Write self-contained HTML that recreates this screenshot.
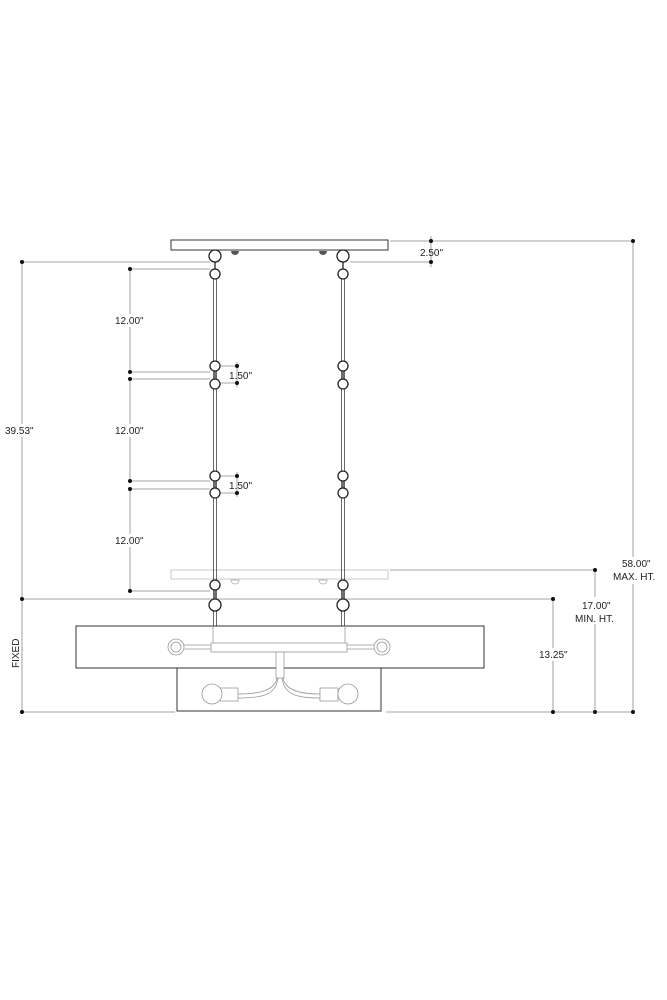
<!DOCTYPE html>
<html><head><meta charset="utf-8"><style>
html,body{margin:0;padding:0;background:#fff;}
svg{display:block;}
text{font-family:"Liberation Sans",Arial,sans-serif;font-size:10px;fill:#222;}
</style></head><body>
<svg width="667" height="1000" viewBox="0 0 667 1000" xmlns="http://www.w3.org/2000/svg">
<rect width="667" height="1000" fill="#fff"/>
<g stroke="#888" stroke-width="0.8" fill="none">
  <!-- left dims -->
  <line x1="22" y1="262" x2="22" y2="712"/>
  <line x1="22" y1="262" x2="210" y2="262"/>
  <line x1="22" y1="599" x2="553" y2="599"/>
  <line x1="130" y1="269" x2="130" y2="372"/>
  <line x1="130" y1="379" x2="130" y2="481"/>
  <line x1="130" y1="489" x2="130" y2="591"/>
  <line x1="130" y1="269" x2="210" y2="269"/>
  <line x1="130" y1="372" x2="210" y2="372"/>
  <line x1="130" y1="379" x2="210" y2="379"/>
  <line x1="130" y1="481" x2="210" y2="481"/>
  <line x1="130" y1="489" x2="210" y2="489"/>
  <line x1="130" y1="591" x2="210" y2="591"/>
  <line x1="220" y1="366" x2="237" y2="366"/>
  <line x1="220" y1="383" x2="237" y2="383"/>
  <line x1="237" y1="362" x2="237" y2="387"/>
  <line x1="220" y1="476" x2="237" y2="476"/>
  <line x1="220" y1="493" x2="237" y2="493"/>
  <line x1="237" y1="472" x2="237" y2="497"/>
  <!-- right dims -->
  <line x1="390" y1="241" x2="634" y2="241"/>
  <line x1="350" y1="262" x2="431" y2="262"/>
  <line x1="431" y1="236" x2="431" y2="267"/>
  <line x1="633" y1="241" x2="633" y2="712"/>
  <line x1="390" y1="570" x2="595" y2="570"/>
  <line x1="595" y1="570" x2="595" y2="712"/>
  <line x1="553" y1="599" x2="553" y2="712"/>
  <line x1="22" y1="712" x2="175" y2="712"/>
  <line x1="386" y1="712" x2="634" y2="712"/>
</g>
<g fill="#111">
  <circle cx="22" cy="262" r="2"/><circle cx="22" cy="599" r="2"/><circle cx="22" cy="712" r="2"/>
  <circle cx="130" cy="269" r="2"/><circle cx="130" cy="372" r="2"/><circle cx="130" cy="379" r="2"/>
  <circle cx="130" cy="481" r="2"/><circle cx="130" cy="489" r="2"/><circle cx="130" cy="591" r="2"/>
  <circle cx="237" cy="366" r="2"/><circle cx="237" cy="383" r="2"/>
  <circle cx="237" cy="476" r="2"/><circle cx="237" cy="493" r="2"/>
  <circle cx="431" cy="241" r="2"/><circle cx="431" cy="262" r="2"/>
  <circle cx="633" cy="241" r="2"/><circle cx="633" cy="712" r="2"/>
  <circle cx="595" cy="570" r="2"/><circle cx="595" cy="712" r="2"/>
  <circle cx="553" cy="599" r="2"/><circle cx="553" cy="712" r="2"/>
</g>
<!-- labels with white bg -->
<g>
  <rect x="4" y="424" width="36" height="13" fill="#fff"/><text x="5" y="434">39.53"</text>
  <rect x="114" y="314" width="34" height="13" fill="#fff"/><text x="115" y="324">12.00"</text>
  <rect x="114" y="424" width="34" height="13" fill="#fff"/><text x="115" y="434">12.00"</text>
  <rect x="114" y="534" width="34" height="13" fill="#fff"/><text x="115" y="544">12.00"</text>
  <text x="229" y="379">1.50"</text>
  <text x="229" y="489">1.50"</text>
  <text x="420" y="256">2.50"</text>
  <rect x="614" y="557" width="40" height="27" fill="#fff"/>
  <text x="622" y="567">58.00"</text><text x="613" y="580">MAX. HT.</text>
  <rect x="574" y="597" width="42" height="27" fill="#fff"/>
  <text x="582" y="609">17.00"</text><text x="575" y="622">MIN. HT.</text>
  <rect x="538" y="648" width="34" height="13" fill="#fff"/><text x="539" y="658">13.25"</text>
  <text transform="translate(19,668) rotate(-90)">FIXED</text>
</g>
<!-- canopy -->
<rect x="171" y="240" width="217" height="10" fill="#fff" stroke="#333" stroke-width="1"/>
<path d="M231 251 h8 a4 4 0 0 1 -8 0z M319 251 h8 a4 4 0 0 1 -8 0z" fill="#555"/>
<!-- ghost canopy -->
<rect x="171" y="570" width="217" height="9" fill="#fff" stroke="#bbb" stroke-width="0.8"/>
<path d="M231 580 h8 a4 4 0 0 1 -8 0z M319 580 h8 a4 4 0 0 1 -8 0z" fill="none" stroke="#bbb"/>
<!-- chains -->
<g stroke="#444" stroke-width="0.8" fill="none">
  <line x1="213.5" y1="278" x2="213.5" y2="626"/><line x1="216.5" y1="278" x2="216.5" y2="626"/>
  <line x1="341.5" y1="278" x2="341.5" y2="626"/><line x1="344.5" y1="278" x2="344.5" y2="626"/>
</g>
<g stroke="#222" stroke-width="1.3" fill="#fff">
  <circle cx="215" cy="256" r="6"/><circle cx="215" cy="274" r="5"/>
  <circle cx="215" cy="366" r="5"/><circle cx="215" cy="384" r="5"/>
  <circle cx="215" cy="476" r="5"/><circle cx="215" cy="493" r="5"/>
  <circle cx="215" cy="585" r="5"/><circle cx="215" cy="605" r="6"/>
  <circle cx="343" cy="256" r="6"/><circle cx="343" cy="274" r="5"/>
  <circle cx="343" cy="366" r="5"/><circle cx="343" cy="384" r="5"/>
  <circle cx="343" cy="476" r="5"/><circle cx="343" cy="493" r="5"/>
  <circle cx="343" cy="585" r="5"/><circle cx="343" cy="605" r="6"/>
</g>
<g stroke="#222" stroke-width="1.3"><line x1="215" y1="262" x2="215" y2="269"/><line x1="343" y1="262" x2="343" y2="269"/>
<line x1="215" y1="371" x2="215" y2="379"/><line x1="215" y1="481" x2="215" y2="488"/><line x1="215" y1="590" x2="215" y2="599"/>
<line x1="343" y1="371" x2="343" y2="379"/><line x1="343" y1="481" x2="343" y2="488"/><line x1="343" y1="590" x2="343" y2="599"/></g>
<!-- shade -->
<rect x="76" y="626" width="408" height="42" fill="#fff" stroke="#333" stroke-width="1"/>
<rect x="177" y="668" width="204" height="43" fill="#fff" stroke="#333" stroke-width="1"/>
<g stroke="#999" stroke-width="0.8" fill="#fff">
  <line x1="213" y1="626" x2="213" y2="643"/><line x1="345" y1="626" x2="345" y2="643"/>
  <line x1="183" y1="645" x2="211" y2="645"/><line x1="183" y1="649" x2="211" y2="649"/>
  <line x1="347" y1="645" x2="376" y2="645"/><line x1="347" y1="649" x2="376" y2="649"/>
  <circle cx="176" cy="647" r="8"/><circle cx="176" cy="647" r="5"/>
  <circle cx="382" cy="647" r="8"/><circle cx="382" cy="647" r="5"/>
  <rect x="211" y="643" width="136" height="9"/>
  <rect x="276" y="652" width="8" height="26"/>
  <path d="M277 678 C275 690 260 694 238 694 M283 678 C285 690 300 694 320 694" fill="none"/>
  <path d="M278 678 C276 696 260 698 238 698 M282 678 C284 696 300 698 320 698" fill="none"/>
  <rect x="220" y="688" width="18" height="13"/>
  <rect x="320" y="688" width="18" height="13"/>
  <circle cx="212" cy="694" r="10"/>
  <circle cx="348" cy="694" r="10"/>
</g>
</svg>
</body></html>
